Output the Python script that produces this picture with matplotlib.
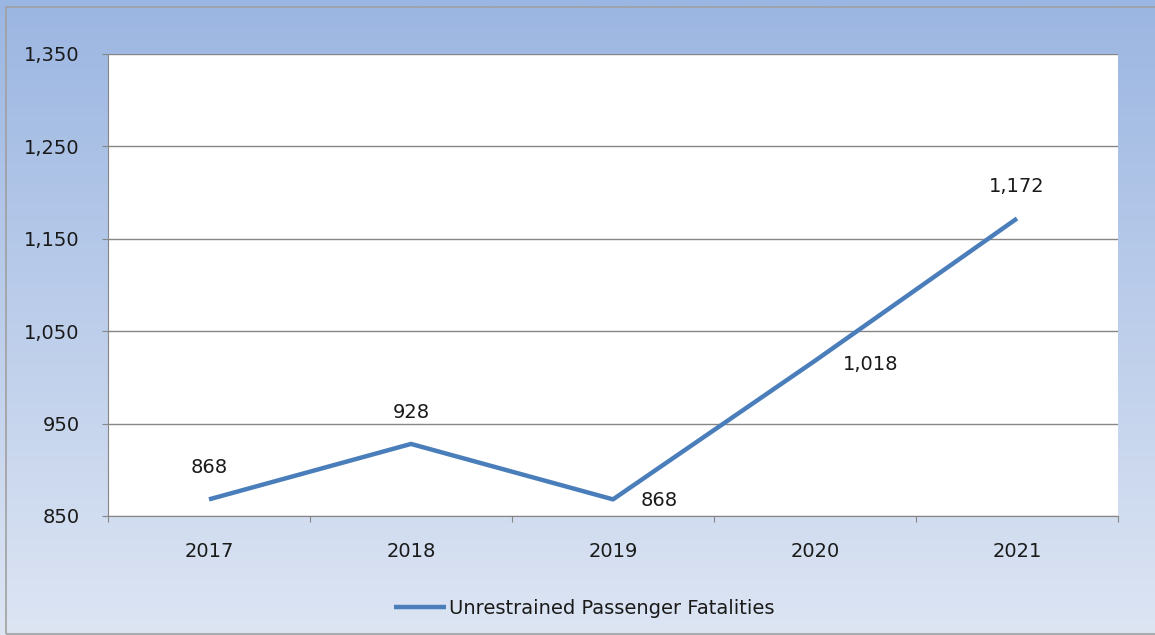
import numpy as np
import matplotlib.pyplot as plt
from matplotlib.patches import Rectangle
from matplotlib.ticker import FuncFormatter, FixedLocator

years = ["2017", "2018", "2019", "2020", "2021"]
fatalities = [868, 928, 868, 1018, 1172]
# label placement relative to the point (dx, dy in px, ha, va)
label_pos = [(0, 22, "center", "bottom"), (0, 22, "center", "bottom"),
             (28, 8, "left", "top"), (28, -4, "left", "center"),
             (0, 22, "center", "bottom")]
series_name = "Unrestrained Passenger Fatalities"

plt.rcParams['font.family'] = ['DejaVu Sans']
line_color = "#4a7ebb"
text_color = "#1a1a1a"
fs = 14

fig = plt.figure(figsize=(11.55, 6.35), dpi=100)

# gradient background
bg = fig.add_axes([0, 0, 1, 1], zorder=-10)
top = np.array([155, 182, 226]) / 255
bot = np.array([221, 229, 243]) / 255
t = np.linspace(0, 1, 256)[:, None]
grad = (top * (1 - t) + bot * t)[:, None, :]
bg.imshow(grad, aspect="auto", extent=[0, 1, 0, 1], origin="upper")
bg.add_patch(Rectangle((6 / 1155, 1 / 635), 1.2, (627) / 635, fill=False,
                       edgecolor="#a0a0a0", linewidth=1.2, transform=bg.transAxes))
bg.set_xlim(0, 1)
bg.set_ylim(0, 1)
bg.axis("off")

ax = fig.add_axes([108 / 1155, 119 / 635, 1010 / 1155, 462 / 635])
ax.set_facecolor("white")
x = np.arange(len(years))
ax.plot(x, fatalities, color=line_color, linewidth=3.2, solid_capstyle="butt",
        label=series_name, zorder=3)

for xi, v, (dx, dy, ha, va) in zip(x, fatalities, label_pos):
    ax.annotate(f"{v:,}", (xi, v), xytext=(dx, dy), textcoords="offset pixels",
                ha=ha, va=va, fontsize=fs, color=text_color)

ax.set_xlim(-0.5, len(years) - 0.5)
ax.set_ylim(850, 1350)
ax.set_yticks(np.arange(850, 1351, 100))
ax.yaxis.set_major_formatter(FuncFormatter(lambda v, p: f"{int(v):,}"))
ax.yaxis.grid(True, color="#868686", linewidth=1)
ax.set_axisbelow(True)

ax.xaxis.set_major_locator(FixedLocator(np.arange(-0.5, len(years), 1)))
ax.xaxis.set_major_formatter(FuncFormatter(lambda v, p: ""))
ax.xaxis.set_minor_locator(FixedLocator(x))
ax.set_xticklabels(years, minor=True)
ax.tick_params(axis="x", which="major", direction="out", length=4.5, color="#868686")
ax.tick_params(axis="x", which="minor", length=0, pad=19, labelsize=fs,
               labelcolor=text_color)
ax.tick_params(axis="y", direction="out", length=4.5, color="#868686", pad=16,
               labelsize=fs, labelcolor=text_color)

for side in ["top", "right"]:
    ax.spines[side].set_visible(False)
ax.spines["left"].set_color("#868686")
ax.spines["bottom"].set_color("#868686")

leg = fig.legend(loc="center", bbox_to_anchor=(584 / 1155, 27 / 635), frameon=False,
                 fontsize=fs, handlelength=2.7, handletextpad=0.15)
for txt in leg.get_texts():
    txt.set_color(text_color)

fig.savefig("out.png", dpi=100)
